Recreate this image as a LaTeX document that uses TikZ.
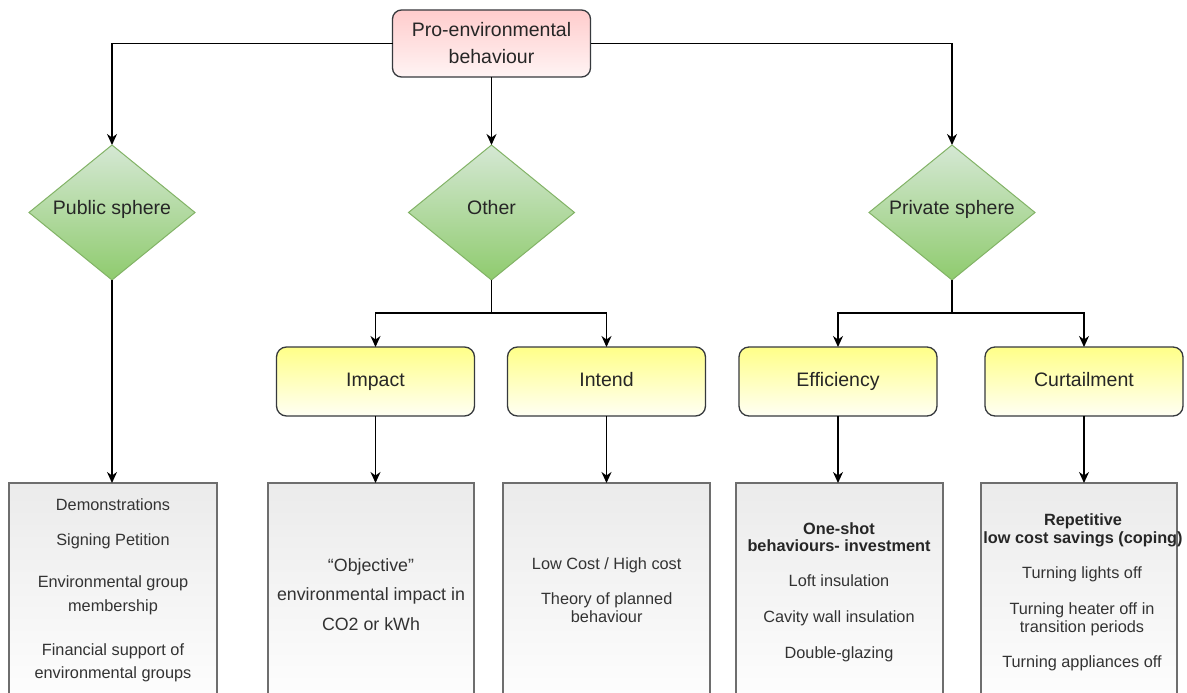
\documentclass[tikz,border=0pt]{standalone}
\usepackage{fontspec}
\setmainfont{Liberation Sans}
\usetikzlibrary{shapes.geometric,arrows.meta}
\definecolor{edge}{HTML}{36393D}
\definecolor{greyedge}{HTML}{6E6E6E}
\definecolor{greenedge}{HTML}{82B366}
\definecolor{pinktop}{HTML}{FFCCCC}
\definecolor{pinkbot}{HTML}{FFF4F4}
\definecolor{greentop}{HTML}{D5E8D4}
\definecolor{greenbot}{HTML}{8FCB6E}
\definecolor{yeltop}{HTML}{FFFF88}
\definecolor{yelbot}{HTML}{FFFFF4}
\definecolor{greytop}{HTML}{EBEBEB}
\definecolor{labeltxt}{HTML}{262626}
\definecolor{listtxt}{HTML}{333333}
\begin{document}
\begin{tikzpicture}[x=1pt,y=-1pt,
  every node/.style={inner sep=0pt, outer sep=0pt},
  big/.style={font=\fontsize{19.5}{27}\selectfont, text=labeltxt},
  rootbox/.style={big, draw=edge, line width=1.3, rounded corners=9,
    top color=pinktop, bottom color=pinkbot, align=center,
    minimum width=198, minimum height=67},
  sphere/.style={diamond, draw=greenedge, line width=1,
    top color=greentop, bottom color=greenbot,
    minimum width=166, minimum height=135},
  spheretext/.style={big, text height=14, text depth=10.4},
  kindbox/.style={big, draw=edge, line width=1.3, rounded corners=10,
    top color=yeltop, bottom color=yelbot,
    minimum width=198, minimum height=69, text height=14, text depth=4},
  listbox/.style={draw=greyedge, line width=1.6, top color=greytop,
    bottom color=white, minimum height=236, anchor=north},
  item/.style={font=\fontsize{16.3}{19.6}\selectfont, text=listtxt, anchor=base},
  boldline/.style={item, font=\fontsize{16.3}{19.6}\selectfont\bfseries, text=labeltxt},
  bigitem/.style={item, font=\fontsize{17.8}{29}\selectfont},
  link/.style={draw=black, line width=1.4},
  arr/.style={link, -{Stealth[length=11pt,width=10pt,inset=3.5pt]}},
]
\path[use as bounding box, clip] (0,0) rectangle (1187,693);
\fill[white] (0,0) rectangle (1187,693);

% root of the tree
\node[rootbox] (root) at (491.5,43.5) {Pro-environmental\\behaviour};

% the three spheres (fixed-size diamonds, label set in the middle)
\node[sphere, label={[spheretext]center:Public sphere}]  (pub)  at (112,212.5) {};
\node[sphere, label={[spheretext]center:Other}]          (oth)  at (491.5,212.5) {};
\node[sphere, label={[spheretext]center:Private sphere}] (priv) at (952,212.5) {};

% second level categories
\node[kindbox] (imp)  at (375.5,381.5) {Impact};
\node[kindbox] (intd) at (606.5,381.5) {Intend};
\node[kindbox] (eff)  at (838,381.5) {Efficiency};
\node[kindbox] (curt) at (1084,381.5) {Curtailment};

% detail boxes running off the bottom edge
\node[listbox, minimum width=208] (pubb)  at (113,483) {};
\node[listbox, minimum width=206] (impb)  at (371,483) {};
\node[listbox, minimum width=207] (intdb) at (606.5,483) {};
\node[listbox, minimum width=207] (effb)  at (839.5,483) {};
\node[listbox, minimum width=196] (curtb) at (1079,483) {};

% detail texts
\foreach \y/\t [count=\i] in {510/Demonstrations, 545/Signing Petition,
    587/Environmental group, 611.5/membership,
    655.5/Financial support of, 678.5/environmental groups}
  \node[item] (pubt\i) at (113,\y) {\t};

\foreach \y/\t [count=\i] in {571.5/“Objective”,
    600.7/environmental impact in, 630.5/CO2 or kWh}
  \node[bigitem] (impt\i) at (371,\y) {\t};

\node[item] (intdt1) at (606.7,569.3) {Low Cost / High cost};
\node[item] (intdt2) at (606.7,604) {Theory of planned};
\node[item] (intdt3) at (606.7,622.7) {behaviour};

\node[boldline] (efft1) at (839,534) {One-shot};
\node[boldline] (efft2) at (839,551.7) {behaviours- investment};
\foreach \y/\t [count=\i from 3] in {586.7/Loft insulation,
    622.7/Cavity wall insulation, 658.3/Double-glazing}
  \node[item] (efft\i) at (839,\y) {\t};

\node[boldline] (curtt1) at (1083,525) {Repetitive};
\node[boldline] (curtt2) at (1083,543.3) {low cost savings (coping)};
\foreach \y/\t [count=\i from 3] in {578.3/Turning lights off,
    614/Turning heater off in, 632.3/transition periods,
    667.7/Turning appliances off}
  \node[item] (curtt\i) at (1082,\y) {\t};

% connectors
\draw[arr] (root.west) -| (pub.north);
\draw[arr] (root.east) -| (priv.north);
\draw[arr] (root.south) -- (oth.north);

\coordinate (othj)  at (491.5,313);
\coordinate (privj) at (952,313);
\draw[link] (oth.south) -- (othj);
\draw[arr] (othj) -| (imp.north);
\draw[arr] (othj) -| (intd.north);
\draw[link] (priv.south) -- (privj);
\draw[arr] (privj) -| (eff.north);
\draw[arr] (privj) -| (curt.north);

\draw[arr] (pub.south) -- (pub.south |- pubb.north);
\draw[arr] (imp.south) -- (imp.south |- impb.north);
\draw[arr] (intd.south) -- (intd.south |- intdb.north);
\draw[arr] (eff.south) -- (eff.south |- effb.north);
\draw[arr] (curt.south) -- (curt.south |- curtb.north);
\end{tikzpicture}
\end{document}
